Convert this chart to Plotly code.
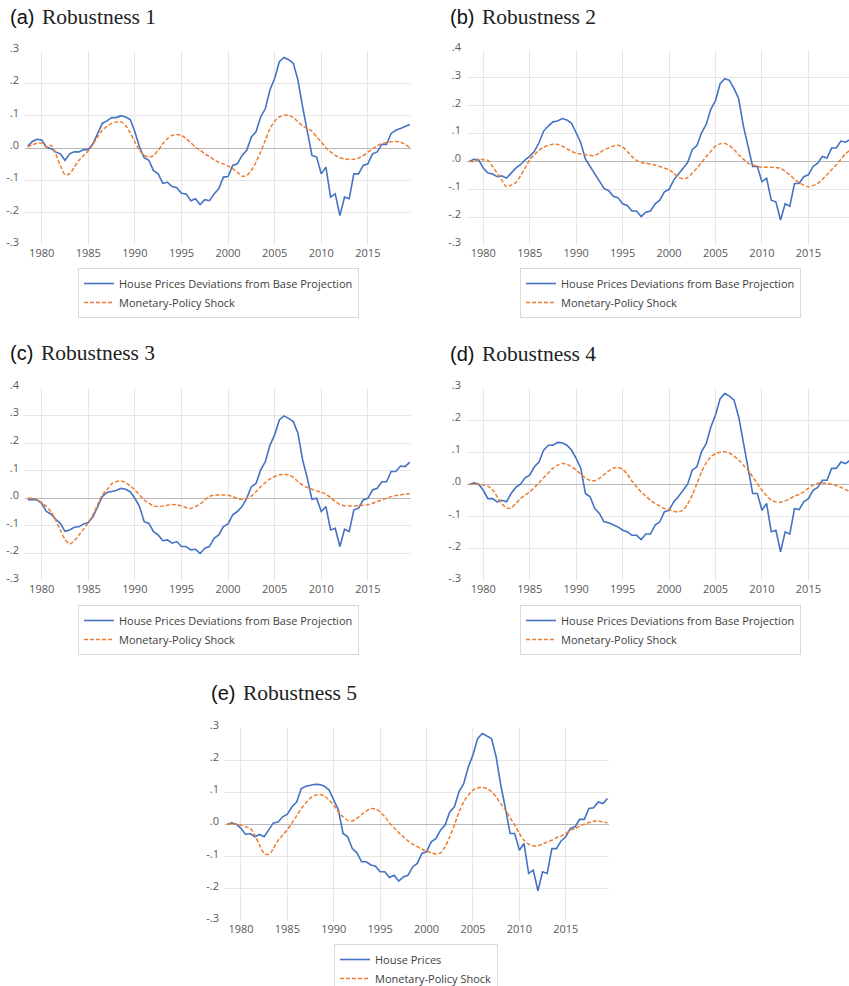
import plotly.graph_objects as go

W, H = 849, 986

# time index: half-year steps 1978.5 .. 2019.5
T = [1978.5 + 0.5 * i for i in range(83)]

BLUE_A = [.005, .02, .027, .025, .003, -.002, -.012, -.018, -.038, -.018,
          -.012, -.012, -.005, -.005, .013, .045, .076, .084, .094, .094,
          .10, .096, .088, .05, .003, -.03, -.038, -.07, -.08, -.109,
          -.106, -.119, -.123, -.14, -.142, -.163, -.157, -.175, -.16, -.163,
          -.142, -.126, -.09, -.088, -.054, -.049, -.023, -.007, .034, .05,
          .096, .122, .18, .215, .267, .28, .273, .262, .21, .127,
          .05, -.023, -.028, -.08, -.059, -.152, -.142, -.209, -.152, -.157,
          -.08, -.08, -.054, -.049, -.018, -.012, .011, .011, .045, .055,
          .06, .067, .073]
ORANGE_A = [.003, .01, .015, .015, .003, .008, -.018, -.054, -.082, -.08,
            -.059, -.038, -.023, -.009, .011, .034, .055, .067, .076, .08,
            .081, .07, .047, .019, -.007, -.023, -.028, -.023, -.007, .013,
            .029, .039, .042, .039, .029, .016, .003, -.007, -.018, -.026,
            -.036, -.044, -.049, -.056, -.064, -.075, -.087, -.085, -.069, -.044,
            -.012, .024, .06, .083, .096, .101, .101, .094, .081, .068,
            .06, .052, .034, .019, .001, -.012, -.023, -.03, -.034, -.035,
            -.035, -.031, -.024, -.013, -.003, .007, .013, .017, .019, .02,
            .018, .011, .001]

BLUE_B = [0, .008, .006, -.024, -.042, -.045, -.055, -.052, -.06, -.042,
          -.024, -.012, .006, .018, .036, .067, .109, .127, .142, .145,
          .154, .149, .137, .103, .067, .008, -.018, -.048, -.073, -.097,
          -.105, -.125, -.13, -.152, -.158, -.178, -.178, -.198, -.182, -.178,
          -.152, -.139, -.109, -.1, -.067, -.045, -.024, -.004, .042, .057,
          .103, .133, .188, .218, .279, .297, .291, .261, .224, .127,
          .055, -.018, -.018, -.073, -.06, -.139, -.145, -.21, -.152, -.161,
          -.079, -.079, -.055, -.048, -.018, -.006, .018, .012, .048, .048,
          .073, .069, .079]
ORANGE_B = [0, 0, .008, .006, .004, -.018, -.042, -.067, -.091, -.085,
            -.076, -.052, -.024, .006, .024, .04, .051, .058, .062, .061,
            .055, .046, .036, .03, .027, .024, .022, .021, .03, .042,
            .048, .055, .058, .052, .036, .018, .004, -.004, -.006, -.01,
            -.013, -.018, -.024, -.03, -.042, -.057, -.062, -.058, -.042, -.024,
            -.004, .018, .036, .055, .063, .064, .057, .042, .024, .008,
            -.006, -.012, -.018, -.021, -.021, -.021, -.022, -.024, -.036, -.048,
            -.064, -.076, -.085, -.091, -.087, -.079, -.064, -.048, -.03, -.012,
            .008, .027, .042]

BLUE_C = [-.005, -.004, -.006, -.018, -.048, -.057, -.076, -.091, -.12, -.115,
          -.105, -.103, -.093, -.088, -.067, -.03, .006, .021, .024, .028,
          .036, .033, .024, 0, -.03, -.085, -.091, -.121, -.133, -.154,
          -.151, -.163, -.157, -.175, -.175, -.187, -.185, -.2, -.181, -.175,
          -.145, -.133, -.103, -.093, -.06, -.048, -.03, 0, .042, .054,
          .103, .133, .193, .23, .284, .299, .29, .278, .236, .139,
          .073, -.004, 0, -.048, -.03, -.115, -.109, -.175, -.112, -.121,
          -.042, -.036, -.006, 0, .03, .036, .06, .06, .097, .097,
          .117, .115, .131]
ORANGE_C = [0, 0, -.004, -.016, -.03, -.048, -.079, -.115, -.149, -.166,
            -.154, -.133, -.112, -.088, -.06, -.024, .012, .03, .052, .06,
            .063, .057, .045, .03, .012, -.006, -.018, -.028, -.03, -.028,
            -.025, -.023, -.024, -.028, -.034, -.037, -.03, -.021, -.006, .006,
            .011, .012, .012, .011, .006, 0, -.004, 0, .008, .024,
            .042, .057, .07, .079, .085, .086, .085, .076, .06, .048,
            .039, .033, .027, .022, .015, .002, -.012, -.022, -.027, -.028,
            -.028, -.027, -.025, -.023, -.018, -.012, -.006, 0, .006, .01,
            .012, .015, .016]

BLUE_D = [0, .005, .001, -.018, -.044, -.044, -.054, -.049, -.054, -.028,
          -.009, .001, .021, .029, .055, .07, .107, .122, .122, .131,
          .13, .122, .107, .081, .05, -.028, -.038, -.075, -.09, -.116,
          -.119, -.126, -.132, -.142, -.147, -.158, -.158, -.171, -.154, -.154,
          -.126, -.116, -.085, -.08, -.054, -.038, -.018, .001, .045, .055,
          .102, .127, .179, .216, .267, .283, .275, .262, .21, .127,
          .05, -.028, -.028, -.08, -.059, -.147, -.142, -.209, -.147, -.154,
          -.075, -.078, -.054, -.044, -.018, -.009, .013, .013, .05, .05,
          .07, .065, .076]
ORANGE_D = [0, .002, .001, -.002, -.005, -.016, -.038, -.059, -.073, -.073,
            -.059, -.044, -.033, -.023, -.009, .005, .021, .036, .05, .06,
            .065, .063, .055, .045, .032, .021, .013, .012, .019, .031,
            .042, .051, .053, .047, .032, .011, -.007, -.023, -.036, -.049,
            -.059, -.067, -.075, -.078, -.083, -.085, -.08, -.061, -.033, .003,
            .039, .067, .086, .096, .1, .102, .098, .088, .076, .06,
            .045, .024, .003, -.018, -.035, -.049, -.054, -.055, -.051, -.044,
            -.036, -.031, -.023, -.012, -.002, .003, .005, .003, .001, -.003,
            -.009, -.016, -.022]

BLUE_E = [0, .005, .001, -.012, -.031, -.028, -.038, -.031, -.038, -.016,
          .005, .008, .024, .032, .055, .07, .112, .119, .122, .125,
          .124, .119, .107, .076, .045, -.028, -.038, -.075, -.088, -.116,
          -.116, -.126, -.13, -.147, -.147, -.165, -.158, -.176, -.163, -.158,
          -.132, -.121, -.09, -.085, -.054, -.044, -.018, -.002, .039, .055,
          .102, .127, .179, .216, .267, .283, .275, .267, .21, .122,
          .05, -.028, -.028, -.08, -.059, -.152, -.142, -.206, -.147, -.152,
          -.075, -.075, -.051, -.038, -.012, -.007, .016, .016, .05, .052,
          .07, .065, .081]
ORANGE_E = [0, .003, .001, -.002, -.007, -.012, -.033, -.064, -.09, -.093,
            -.075, -.049, -.033, -.016, .005, .027, .05, .067, .083, .091,
            .093, .088, .076, .06, .039, .024, .013, .011, .019, .031,
            .042, .049, .048, .039, .024, .005, -.01, -.025, -.038, -.051,
            -.061, -.069, -.077, -.083, -.088, -.092, -.088, -.069, -.038, -.002,
            .039, .07, .091, .107, .114, .115, .112, .102, .086, .065,
            .045, .021, -.002, -.028, -.049, -.061, -.066, -.066, -.061, -.054,
            -.049, -.041, -.036, -.028, -.018, -.012, -.005, .001, .006, .01,
            .011, .008, .005]

X_TICKS = [1980, 1985, 1990, 1995, 2000, 2005, 2010, 2015]
BLUE_NAME_LONG = "House Prices Deviations from Base Projection"
BLUE_NAME_SHORT = "House Prices"
ORANGE_NAME = "Monetary-Policy Shock"
LABELS = ["(a)", "(b)", "(c)", "(d)", "(e)"]
SUBTITLES = ["Robustness 1", "Robustness 2", "Robustness 3", "Robustness 4", "Robustness 5"]

BLUE = "#4472C4"
ORANGE = "#ED7D31"
GRID = "#e6e6e6"
ZERO = "#b8b8b8"
TXT = "#595959"
FONT = "Open Sans"


def fx(p):
    return p / W


def fy(p):
    return 1 - p / H


panels = [
    dict(blue=BLUE_A, orange=ORANGE_A, bname=BLUE_NAME_LONG, xdom=(25, 411), ydom=(51, 245),
         xr=(1978.21, 2019.63), yr=(-0.3, 0.3), lab=(8, 40, 17), leg=(78, 268)),
    dict(blue=BLUE_B, orange=ORANGE_B, bname=BLUE_NAME_LONG, xdom=(467, 849), ydom=(50, 245),
         xr=(1978.25, 2019.37), yr=(-0.3, 0.4), lab=(448, 480, 17), leg=(520, 268)),
    dict(blue=BLUE_C, orange=ORANGE_C, bname=BLUE_NAME_LONG, xdom=(25, 411), ydom=(388, 581),
         xr=(1978.21, 2019.63), yr=(-0.3, 0.4), lab=(8, 39, 353), leg=(78, 605)),
    dict(blue=BLUE_D, orange=ORANGE_D, bname=BLUE_NAME_LONG, xdom=(467, 849), ydom=(388, 581),
         xr=(1978.25, 2019.37), yr=(-0.3, 0.3), lab=(448, 480, 354), leg=(520, 605)),
    dict(blue=BLUE_E, orange=ORANGE_E, bname=BLUE_NAME_SHORT, xdom=(225, 609), ydom=(728, 921),
         xr=(1978.28, 2019.66), yr=(-0.3, 0.3), lab=(209, 241, 693), leg=(334, 944)),
]


def fmt(v):
    s = f"{v:.1f}"
    return s.replace("0.", ".")


fig = go.Figure()
layout = dict(width=W, height=H, margin=dict(l=0, r=0, t=0, b=0, autoexpand=False),
              paper_bgcolor="white", plot_bgcolor="white", showlegend=True,
              annotations=[])

for i, p in enumerate(panels):
    n = i + 1
    xa = "x" if n == 1 else f"x{n}"
    ya = "y" if n == 1 else f"y{n}"
    lg = "legend" if n == 1 else f"legend{n}"
    fig.add_trace(go.Scatter(x=T[:len(p["blue"])], y=p["blue"], mode="lines", name=p["bname"],
                             line=dict(color=BLUE, width=1.6), xaxis=xa, yaxis=ya, legend=lg,
                             hoverinfo="skip"))
    fig.add_trace(go.Scatter(x=T[:len(p["orange"])], y=p["orange"], mode="lines", name=ORANGE_NAME,
                             line=dict(color=ORANGE, width=1.5, dash="4px,2px", shape="spline",
                                       smoothing=0.8),
                             xaxis=xa, yaxis=ya, legend=lg, hoverinfo="skip"))
    lo, hi = p["yr"]
    k0, k1 = round(lo * 10), round(hi * 10)
    tv = [k / 10 for k in range(k0, k1 + 1)]
    inner = [v for v in tv if v not in (lo, hi) and abs(v) > 1e-9]
    xkey = "xaxis" if n == 1 else f"xaxis{n}"
    ykey = "yaxis" if n == 1 else f"yaxis{n}"
    layout[xkey] = dict(domain=[fx(p["xdom"][0]), fx(p["xdom"][1])], range=list(p["xr"]),
                        anchor=ya, tickmode="array", tickvals=X_TICKS,
                        ticktext=[str(v) for v in X_TICKS],
                        showgrid=True, gridcolor=GRID, gridwidth=1, zeroline=False,
                        showline=False, ticks="", tickfont=dict(family=FONT, size=11, color=TXT),
                        automargin=False, fixedrange=True)
    layout[ykey] = dict(domain=[fy(p["ydom"][1]), fy(p["ydom"][0])], range=[lo, hi],
                        anchor=xa, tickmode="array", tickvals=tv, ticktext=[fmt(v) for v in tv],
                        showgrid=False, zeroline=True, zerolinecolor=ZERO, zerolinewidth=1.3,
                        minor=dict(tickmode="array", tickvals=inner, showgrid=True,
                                   gridcolor=GRID, gridwidth=1, ticks=""),
                        showline=False, ticks="", ticklabelstandoff=5, ticklabelshift=-3,
                        tickfont=dict(family=FONT, size=11, color=TXT), automargin=False,
                        fixedrange=True)
    layout[lg] = dict(x=fx(p["leg"][0]), y=fy(p["leg"][1]), xanchor="left", yanchor="top",
                      bgcolor="white", bordercolor="#d9d9d9", borderwidth=1,
                      font=dict(family=FONT, size=11, color="#404040"),
                      tracegroupgap=0, itemwidth=30, orientation="v")
    lx, rx, ty = p["lab"]
    layout["annotations"].append(dict(text=LABELS[i], x=fx(lx), y=fy(ty), xref="paper", yref="paper",
                                      xanchor="left", yanchor="middle", showarrow=False,
                                      font=dict(family="Liberation Sans", size=20, color="#111111")))
    layout["annotations"].append(dict(text=SUBTITLES[i], x=fx(rx), y=fy(ty), xref="paper",
                                      yref="paper", xanchor="left", yanchor="middle",
                                      showarrow=False,
                                      font=dict(family="Liberation Serif", size=21.5,
                                                color="#222222")))

fig.update_layout(**layout)
fig.write_html("out.html", config={"displayModeBar": False},
               post_script="document.body.style.margin='0';document.body.style.overflow='hidden';")
